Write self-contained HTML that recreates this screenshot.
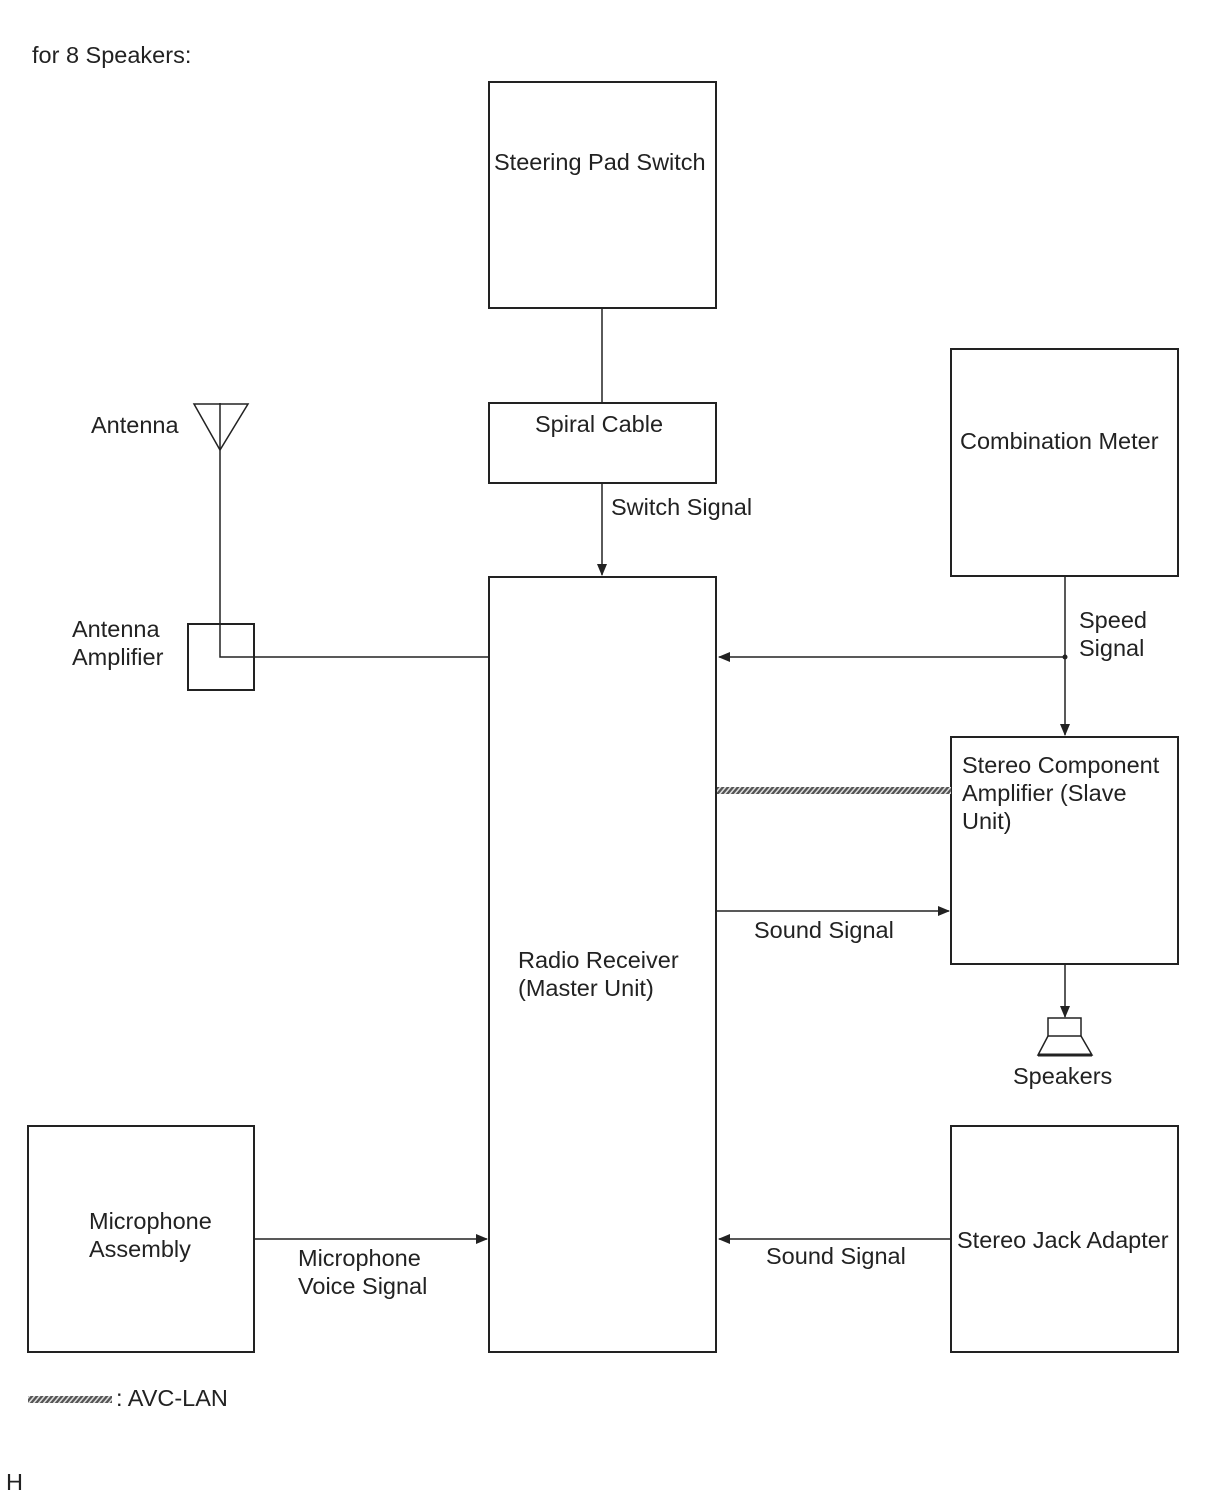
<!DOCTYPE html>
<html><head><meta charset="utf-8"><style>
html,body{margin:0;padding:0;background:#fff;}
svg{display:block;}
text{font-family:"Liberation Sans",sans-serif;font-size:23.5px;fill:#222;}
</style></head><body>
<svg width="1210" height="1498" viewBox="0 0 1210 1498" xmlns="http://www.w3.org/2000/svg">
<defs>
<pattern id="hatch" width="5" height="7" patternUnits="userSpaceOnUse" patternTransform="skewX(-40)">
<rect width="5" height="7" fill="#555"/><rect width="2" height="7" fill="#ddd"/>
</pattern>
<marker id="ar" markerWidth="12" markerHeight="12" refX="11" refY="6" orient="auto" markerUnits="userSpaceOnUse">
<path d="M0,1 L12,6 L0,11 Z" fill="#222"/>
</marker>
</defs>
<text x="32" y="63" font-size="31">for 8 Speakers:</text>
<g fill="none" stroke="#222" stroke-width="2">
<rect x="489" y="82" width="227" height="226"/>
<rect x="489" y="403" width="227" height="80"/>
<rect x="489" y="577" width="227" height="775"/>
<rect x="951" y="349" width="227" height="227"/>
<rect x="951" y="737" width="227" height="227"/>
<rect x="951" y="1126" width="227" height="226"/>
<rect x="28" y="1126" width="226" height="226"/>
<rect x="188" y="624" width="66" height="66"/>
</g>
<g stroke="#222" stroke-width="1.5" fill="none">
<line x1="602" y1="308" x2="602" y2="403"/>
<line x1="602" y1="483" x2="602" y2="575" marker-end="url(#ar)"/>
<polyline points="220,403 220,657 489,657"/>
<path d="M194,404 L248,404 L220,450 Z"/>
<line x1="1065" y1="576" x2="1065" y2="735" marker-end="url(#ar)"/>
<line x1="1065" y1="657" x2="719" y2="657" marker-end="url(#ar)"/>
<line x1="716" y1="911" x2="949" y2="911" marker-end="url(#ar)"/>
<line x1="1065" y1="964" x2="1065" y2="1017" marker-end="url(#ar)"/>
<line x1="254" y1="1239" x2="487" y2="1239" marker-end="url(#ar)"/>
<line x1="951" y1="1239" x2="719" y2="1239" marker-end="url(#ar)"/>
<rect x="1048" y="1018" width="33" height="18"/>
<path d="M1048,1036 L1038,1055 L1092,1055 L1081,1036"/>
</g>
<line x1="1038" y1="1055" x2="1092" y2="1055" stroke="#222" stroke-width="3"/>
<circle cx="1065" cy="657" r="2.5" fill="#222"/>
<rect x="717" y="787" width="234" height="7" fill="url(#hatch)"/>
<rect x="28" y="1396" width="84" height="7" fill="url(#hatch)"/>
<text x="494" y="170">Steering Pad Switch</text>
<text x="535" y="432">Spiral Cable</text>
<text x="611" y="515">Switch Signal</text>
<text x="91" y="433">Antenna</text>
<text x="72" y="637">Antenna</text>
<text x="72" y="665">Amplifier</text>
<text x="960" y="449">Combination Meter</text>
<text x="1079" y="628">Speed</text>
<text x="1079" y="656">Signal</text>
<text x="962" y="773">Stereo Component</text>
<text x="962" y="801">Amplifier (Slave</text>
<text x="962" y="829">Unit)</text>
<text x="754" y="938">Sound Signal</text>
<text x="518" y="968">Radio Receiver</text>
<text x="518" y="996">(Master Unit)</text>
<text x="1013" y="1084">Speakers</text>
<text x="89" y="1229">Microphone</text>
<text x="89" y="1257">Assembly</text>
<text x="298" y="1266">Microphone</text>
<text x="298" y="1294">Voice Signal</text>
<text x="766" y="1264">Sound Signal</text>
<text x="957" y="1248">Stereo Jack Adapter</text>
<text x="116" y="1406">: AVC-LAN</text>
<text x="6" y="1490" font-size="14">H</text>
</svg>
</body></html>
